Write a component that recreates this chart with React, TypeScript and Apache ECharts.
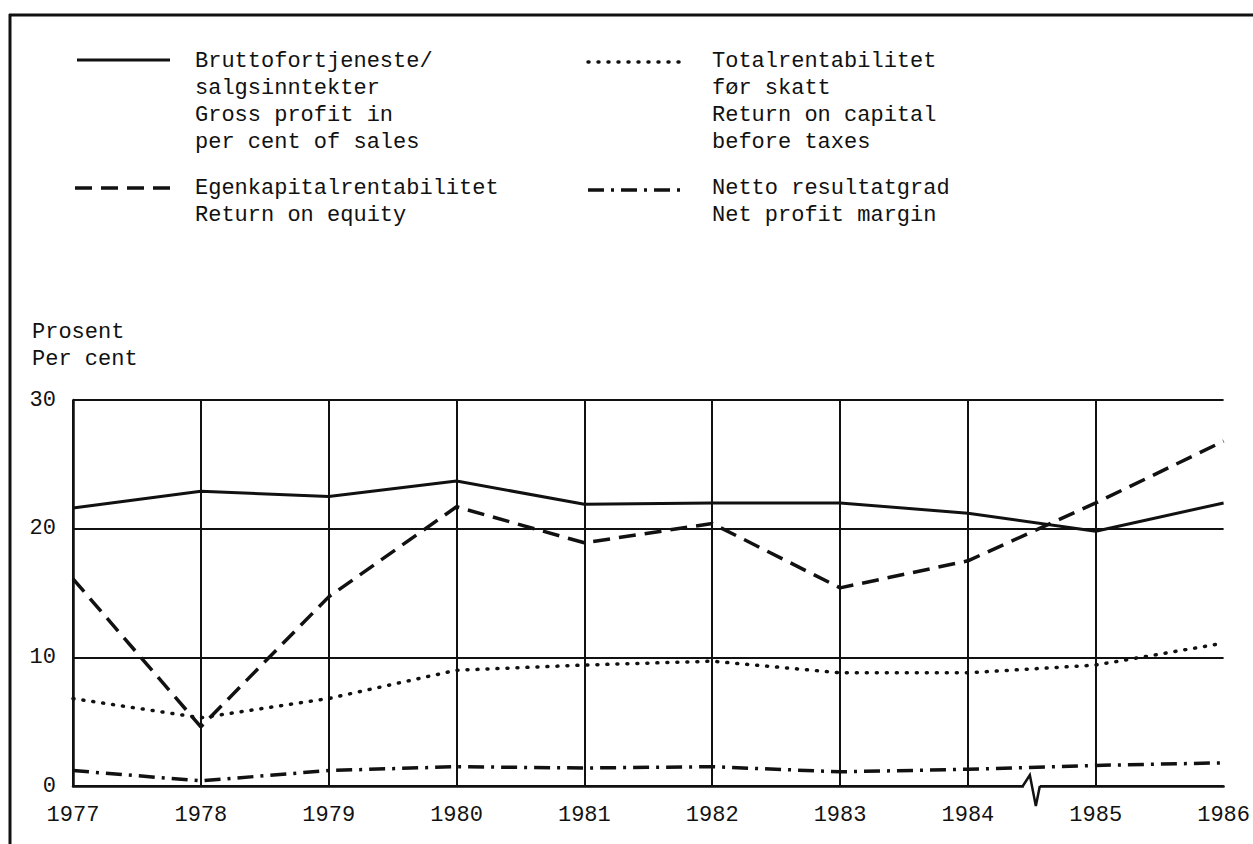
import React, { useEffect, useRef } from "react";
import * as echarts from "echarts";

const years = ["1977", "1978", "1979", "1980", "1981", "1982", "1983", "1984", "1985", "1986"];
const grossProfit = [21.6, 22.9, 22.5, 23.7, 21.9, 22.0, 22.0, 21.2, 19.8, 22.0];
const returnOnEquity = [16.1, 4.6, 14.7, 21.7, 18.9, 20.4, 15.4, 17.5, 22.0, 26.8];
const returnOnCapital = [6.8, 5.3, 6.8, 9.0, 9.4, 9.7, 8.8, 8.8, 9.4, 11.1];
const netProfitMargin = [1.2, 0.4, 1.2, 1.5, 1.4, 1.5, 1.1, 1.3, 1.6, 1.8];

const yMin = 0;
const yMax = 30;
const yStep = 10;

const legendGross = ["Bruttofortjeneste/", "salgsinntekter", "Gross profit in", "per cent of sales"];
const legendCapital = ["Totalrentabilitet", "før skatt", "Return on capital", "before taxes"];
const legendEquity = ["Egenkapitalrentabilitet", "Return on equity"];
const legendNet = ["Netto resultatgrad", "Net profit margin"];
const axisTitle = ["Prosent", "Per cent"];

const FONT = "'Liberation Mono', 'DejaVu Sans Mono', monospace";
const INK = "#111";

const solidStyle = { type: "solid" as const, width: 3 };
const dashStyle = { type: [17, 9], width: 3.5 };
const dotStyle = { type: [1, 9], width: 3.5, cap: "round" as const };
const dashDotStyle = { type: [16, 7, 3, 7], width: 3.5 };

export default function App() {
  const ref = useRef<HTMLDivElement>(null);

  useEffect(() => {
    document.body.style.margin = "0";
    const chart = echarts.init(ref.current!, null, { renderer: "svg" });

    const mkSeries = (name: string, data: number[], ls: any) => ({
      name,
      type: "line",
      data,
      symbol: "none",
      lineStyle: { color: INK, ...ls },
      z: 5,
    });

    chart.setOption({
      animation: false,
      backgroundColor: "#fff",
      grid: { left: 73, right: 25, top: 400, bottom: 58, containLabel: false },
      xAxis: {
        type: "category",
        data: years,
        boundaryGap: false,
        axisLine: { show: true, lineStyle: { color: INK, width: 2.5 } },
        axisTick: { show: false },
        axisLabel: { color: INK, fontFamily: FONT, fontSize: 22, margin: 18 },
        splitLine: { show: true, showMaxLine: false, lineStyle: { color: INK, width: 2 } },
      },
      yAxis: {
        type: "value",
        min: yMin,
        max: yMax,
        interval: yStep,
        axisLine: { show: true, lineStyle: { color: INK, width: 2.5 } },
        axisTick: { show: false },
        axisLabel: { color: INK, fontFamily: FONT, fontSize: 22, margin: 17 },
        splitLine: { show: true, lineStyle: { color: INK, width: 2 } },
      },
      series: [
        mkSeries(legendGross.join(" "), grossProfit, solidStyle),
        mkSeries(legendEquity.join(" "), returnOnEquity, dashStyle),
        mkSeries(legendCapital.join(" "), returnOnCapital, dotStyle),
        mkSeries(legendNet.join(" "), netProfitMargin, dashDotStyle),
      ],
    });

    const p84 = chart.convertToPixel({ gridIndex: 0 }, [7, 0]) as number[];
    const p85 = chart.convertToPixel({ gridIndex: 0 }, [8, 0]) as number[];
    const bx = (p84[0] + p85[0]) / 2;
    const by = p84[1];

    const LH = 27;
    const textBlock = (x: number, firstLineY: number, lines: string[]) => ({
      type: "text",
      x,
      y: firstLineY - LH / 2,
      style: {
        text: lines.join("\n"),
        fill: INK,
        font: `22px ${FONT}`,
        lineHeight: LH,
        textVerticalAlign: "top",
        verticalAlign: "top",
      },
    });

    const sample = (x1: number, x2: number, y: number, ls: any) => ({
      type: "line",
      shape: { x1, y1: y, x2, y2: y },
      style: {
        stroke: INK,
        lineWidth: ls.width,
        lineDash: Array.isArray(ls.type) ? ls.type : null,
        lineCap: ls.cap || "butt",
      },
    });

    chart.setOption({
      graphic: [
        { type: "line", shape: { x1: 9, y1: 15, x2: 1253, y2: 15 }, style: { stroke: INK, lineWidth: 3 } },
        { type: "line", shape: { x1: 10, y1: 14, x2: 10, y2: 844 }, style: { stroke: INK, lineWidth: 3 } },
        sample(77, 170, 60, solidStyle),
        sample(75, 170, 188, dashStyle),
        sample(588, 685, 62, dotStyle),
        sample(588, 685, 190, dashDotStyle),
        textBlock(195, 61, legendGross),
        textBlock(712, 61, legendCapital),
        textBlock(195, 188, legendEquity),
        textBlock(712, 188, legendNet),
        textBlock(32, 332, axisTitle),
        { type: "rect", shape: { x: bx - 8, y: by - 3, width: 16, height: 6 }, style: { fill: "#fff" }, z: 20 },
        {
          type: "polyline",
          shape: { points: [[bx - 9, by], [bx - 2, by - 11], [bx + 4, by + 20], [bx + 8, by]] },
          style: { stroke: INK, lineWidth: 2.5, fill: null },
          z: 21,
        },
      ],
    });

    return () => chart.dispose();
  }, []);

  return <div ref={ref} style={{ width: 1253, height: 844 }} />;
}
